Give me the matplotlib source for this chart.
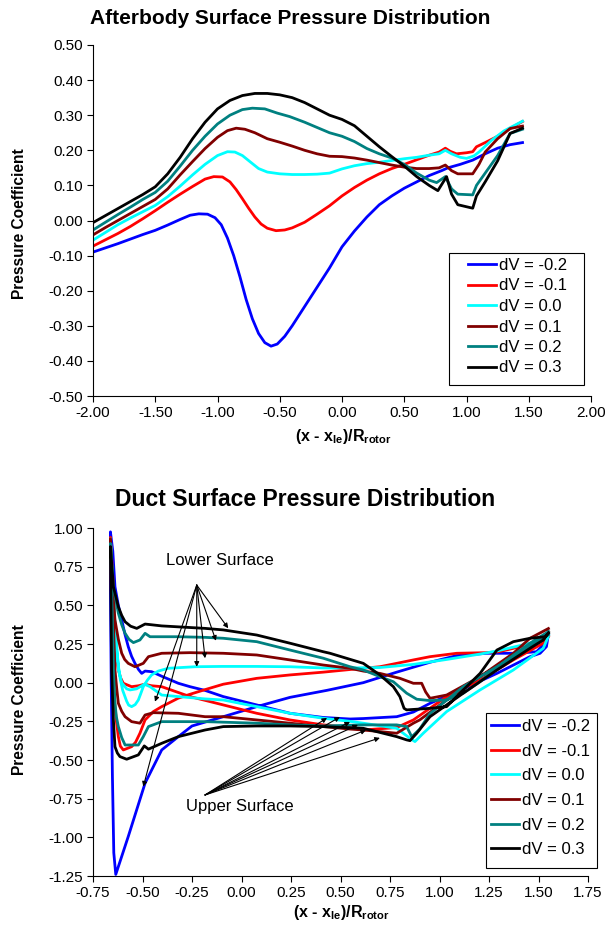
import matplotlib
matplotlib.use('Agg')
import matplotlib.pyplot as plt
from matplotlib.patches import Rectangle

plt.rcParams['font.family'] = ['Liberation Sans', 'DejaVu Sans']
plt.rcParams['mathtext.fontset'] = 'custom'
plt.rcParams['mathtext.rm'] = 'Liberation Sans'
plt.rcParams['mathtext.bf'] = 'Liberation Sans:bold'
plt.rcParams['mathtext.default'] = 'bf'

colors = ['#0000FF', '#FF0000', '#00FFFF', '#800000', '#008080', '#000000']
labels = ['dV = -0.2', 'dV = -0.1', 'dV = 0.0', 'dV = 0.1', 'dV = 0.2', 'dV = 0.3']

# ---- afterbody surface Cp, (x, Cp) pairs ----
after_m02 = [(-2.0, -0.09), (-1.9, -0.078), (-1.8, -0.066), (-1.7, -0.053), (-1.6, -0.04),
             (-1.5, -0.028), (-1.4, -0.013), (-1.3, 0.003), (-1.22, 0.015), (-1.15, 0.019),
             (-1.08, 0.018), (-1.02, 0.008), (-0.97, -0.012), (-0.92, -0.05), (-0.87, -0.1),
             (-0.82, -0.16), (-0.77, -0.225), (-0.72, -0.28), (-0.67, -0.322), (-0.62, -0.348),
             (-0.57, -0.358), (-0.52, -0.352), (-0.46, -0.33), (-0.4, -0.3), (-0.3, -0.245),
             (-0.2, -0.19), (-0.1, -0.135), (0.0, -0.075), (0.1, -0.03), (0.2, 0.01),
             (0.3, 0.045), (0.4, 0.07), (0.5, 0.092), (0.6, 0.11), (0.7, 0.128), (0.8, 0.142),
             (0.85, 0.15), (0.95, 0.16), (1.05, 0.172), (1.15, 0.19), (1.25, 0.206),
             (1.35, 0.216), (1.45, 0.222)]
after_m01 = [(-2.0, -0.073), (-1.9, -0.055), (-1.8, -0.037), (-1.7, -0.017), (-1.6, 0.005),
             (-1.5, 0.028), (-1.4, 0.052), (-1.3, 0.075), (-1.2, 0.097), (-1.1, 0.118),
             (-1.03, 0.125), (-0.96, 0.124), (-0.9, 0.11), (-0.85, 0.088), (-0.8, 0.062),
             (-0.75, 0.035), (-0.7, 0.01), (-0.65, -0.01), (-0.6, -0.022), (-0.53, -0.029),
             (-0.46, -0.027), (-0.4, -0.021), (-0.3, -0.005), (-0.2, 0.018), (-0.1, 0.042),
             (0.0, 0.07), (0.1, 0.094), (0.2, 0.115), (0.3, 0.133), (0.4, 0.148), (0.5, 0.16),
             (0.6, 0.173), (0.7, 0.186), (0.78, 0.195), (0.83, 0.206), (0.87, 0.197),
             (0.92, 0.19), (1.0, 0.193), (1.05, 0.196), (1.08, 0.21), (1.15, 0.222),
             (1.25, 0.24), (1.35, 0.262), (1.45, 0.282)]
after_000 = [(-2.0, -0.056), (-1.9, -0.034), (-1.8, -0.012), (-1.7, 0.007), (-1.6, 0.025),
             (-1.5, 0.043), (-1.4, 0.068), (-1.3, 0.098), (-1.2, 0.13), (-1.1, 0.16),
             (-1.0, 0.185), (-0.92, 0.196), (-0.86, 0.195), (-0.8, 0.185), (-0.73, 0.165),
             (-0.67, 0.148), (-0.6, 0.138), (-0.5, 0.133), (-0.4, 0.131), (-0.3, 0.131),
             (-0.2, 0.132), (-0.1, 0.135), (0.0, 0.147), (0.1, 0.156), (0.2, 0.162),
             (0.3, 0.166), (0.4, 0.171), (0.5, 0.176), (0.6, 0.18), (0.7, 0.186), (0.78, 0.19),
             (0.83, 0.2), (0.88, 0.19), (0.95, 0.18), (1.0, 0.177), (1.06, 0.184), (1.1, 0.195),
             (1.2, 0.228), (1.3, 0.255), (1.45, 0.283)]
after_p01 = [(-2.0, -0.041), (-1.9, -0.02), (-1.8, 0.0), (-1.7, 0.02), (-1.6, 0.04),
             (-1.5, 0.06), (-1.4, 0.09), (-1.3, 0.13), (-1.2, 0.168), (-1.1, 0.205),
             (-1.0, 0.237), (-0.92, 0.256), (-0.85, 0.263), (-0.78, 0.26), (-0.7, 0.25),
             (-0.6, 0.233), (-0.5, 0.223), (-0.4, 0.212), (-0.3, 0.2), (-0.2, 0.19),
             (-0.1, 0.183), (0.0, 0.182), (0.1, 0.178), (0.2, 0.172), (0.3, 0.165),
             (0.4, 0.158), (0.5, 0.152), (0.6, 0.148), (0.7, 0.148), (0.78, 0.15),
             (0.83, 0.158), (0.88, 0.142), (0.93, 0.133), (1.05, 0.133), (1.1, 0.16),
             (1.15, 0.195), (1.25, 0.233), (1.35, 0.262), (1.45, 0.269)]
after_p02 = [(-2.0, -0.027), (-1.9, -0.005), (-1.8, 0.017), (-1.7, 0.038), (-1.6, 0.06),
             (-1.5, 0.08), (-1.4, 0.112), (-1.3, 0.155), (-1.2, 0.2), (-1.1, 0.24),
             (-1.0, 0.275), (-0.9, 0.3), (-0.8, 0.316), (-0.72, 0.32), (-0.62, 0.318),
             (-0.52, 0.306), (-0.42, 0.296), (-0.3, 0.28), (-0.2, 0.265), (-0.1, 0.25),
             (0.0, 0.24), (0.1, 0.225), (0.2, 0.205), (0.3, 0.19), (0.4, 0.178), (0.5, 0.16),
             (0.6, 0.135), (0.7, 0.115), (0.76, 0.108), (0.83, 0.125), (0.88, 0.09),
             (0.93, 0.075), (1.05, 0.073), (1.08, 0.1), (1.15, 0.135), (1.25, 0.185),
             (1.35, 0.248), (1.45, 0.26)]
after_p03 = [(-2.0, -0.006), (-1.9, 0.014), (-1.8, 0.034), (-1.7, 0.054), (-1.6, 0.074),
             (-1.5, 0.096), (-1.4, 0.133), (-1.3, 0.18), (-1.2, 0.233), (-1.1, 0.28),
             (-1.0, 0.318), (-0.9, 0.342), (-0.8, 0.356), (-0.7, 0.362), (-0.6, 0.362),
             (-0.5, 0.358), (-0.4, 0.35), (-0.3, 0.336), (-0.2, 0.318), (-0.1, 0.3),
             (0.0, 0.288), (0.1, 0.27), (0.2, 0.24), (0.3, 0.21), (0.4, 0.182), (0.5, 0.155),
             (0.6, 0.125), (0.7, 0.1), (0.77, 0.085), (0.84, 0.125), (0.88, 0.075),
             (0.93, 0.045), (1.05, 0.035), (1.08, 0.07), (1.15, 0.11), (1.25, 0.17),
             (1.35, 0.248), (1.45, 0.263)]

# ---- duct surface Cp, lower surface TE -> LE then upper surface LE -> TE ----
duct_m02 = [(1.55, 0.31), (1.533, 0.255), (1.49, 0.20), (1.39, 0.19), (1.24, 0.19), (1.087, 0.175),
            (0.952, 0.132), (0.784, 0.068), (0.615, 0.0), (0.43, -0.05), (0.245, -0.095),
            (0.077, -0.155), (-0.092, -0.22), (-0.25, -0.28), (-0.319, -0.349), (-0.403, -0.435),
            (-0.487, -0.65), (-0.572, -0.995), (-0.635, -1.24), (-0.645, -1.1), (-0.652, -0.6),
            (-0.658, 0.0), (-0.662, 0.6), (-0.662, 0.975),
            (-0.65, 0.85), (-0.639, 0.62), (-0.622, 0.5), (-0.605, 0.405), (-0.588, 0.31),
            (-0.572, 0.233), (-0.555, 0.17), (-0.538, 0.125), (-0.52, 0.085), (-0.504, 0.06),
            (-0.487, 0.075), (-0.454, 0.071), (-0.40, 0.04), (-0.319, -0.004),
            (-0.26, -0.026), (-0.184, -0.05), (-0.092, -0.09), (0.077, -0.144), (0.245, -0.198),
            (0.413, -0.225), (0.548, -0.235), (0.615, -0.232), (0.784, -0.22), (0.868, -0.19),
            (0.95, -0.135), (1.12, -0.04), (1.29, 0.06), (1.457, 0.168), (1.508, 0.19),
            (1.54, 0.233), (1.55, 0.31)]
duct_m01 = [(1.55, 0.30), (1.50, 0.27), (1.40, 0.23), (1.30, 0.20), (1.238, 0.194), (1.087, 0.19),
            (0.952, 0.168), (0.868, 0.147), (0.784, 0.125), (0.699, 0.103), (0.615, 0.093),
            (0.548, 0.085), (0.413, 0.068), (0.245, 0.05), (0.077, 0.028), (-0.092, -0.01),
            (-0.184, -0.045), (-0.26, -0.075), (-0.319, -0.10), (-0.403, -0.155), (-0.445, -0.187),
            (-0.487, -0.241), (-0.513, -0.327), (-0.535, -0.385), (-0.555, -0.414),
            (-0.597, -0.435), (-0.612, -0.41), (-0.622, -0.349), (-0.632, -0.25),
            (-0.64, -0.133), (-0.652, 0.19), (-0.658, 0.62), (-0.662, 0.94),
            (-0.647, 0.62), (-0.639, 0.3), (-0.63, 0.16), (-0.622, 0.082), (-0.61, 0.03),
            (-0.597, -0.004), (-0.555, -0.026),
            (-0.52, -0.02), (-0.49, -0.01), (-0.454, -0.02), (-0.403, -0.026), (-0.26, -0.09),
            (-0.092, -0.144), (0.077, -0.198), (0.245, -0.241), (0.413, -0.273), (0.548, -0.29),
            (0.615, -0.306), (0.784, -0.29), (0.868, -0.241), (1.036, -0.09), (1.205, 0.017),
            (1.373, 0.147), (1.524, 0.255), (1.55, 0.30)]
duct_000 = [(1.55, 0.31), (1.54, 0.30), (1.457, 0.255), (1.29, 0.205), (1.205, 0.185), (1.036, 0.15),
            (0.868, 0.118), (0.699, 0.098), (0.548, 0.095), (0.413, 0.095), (0.245, 0.103),
            (0.077, 0.105), (-0.10, 0.105), (-0.235, 0.103), (-0.37, 0.093), (-0.42, 0.075),
            (-0.454, 0.05), (-0.476, 0.015), (-0.496, -0.026), (-0.51, -0.075),
            (-0.521, -0.112), (-0.537, -0.142), (-0.555, -0.155), (-0.57, -0.145),
            (-0.58, -0.12), (-0.60, -0.05), (-0.612, 0.02),
            (-0.622, 0.1), (-0.64, 0.4), (-0.655, 0.75), (-0.662, 0.93),
            (-0.65, 0.6), (-0.63, 0.2), (-0.618, 0.07), (-0.605, 0.0), (-0.58, -0.04),
            (-0.563, -0.047),
            (-0.53, -0.04), (-0.49, -0.01), (-0.462, -0.026), (-0.403, -0.08), (-0.319, -0.09),
            (-0.184, -0.105), (-0.092, -0.112), (0.077, -0.155), (0.245, -0.198), (0.413, -0.23),
            (0.548, -0.25), (0.615, -0.262), (0.784, -0.295), (0.851, -0.36), (0.876, -0.381),
            (0.918, -0.327), (1.036, -0.187), (1.205, -0.047), (1.373, 0.082), (1.524, 0.222),
            (1.55, 0.30)]
duct_p01 = [(1.55, 0.35), (1.457, 0.287), (1.373, 0.19), (1.205, 0.039), (1.036, -0.08),
            (0.952, -0.101), (0.93, -0.06), (0.91, -0.004), (0.868, -0.004), (0.8, 0.028),
            (0.699, 0.06), (0.615, 0.075), (0.548, 0.093), (0.413, 0.114), (0.245, 0.147),
            (0.077, 0.179), (-0.092, 0.19), (-0.26, 0.194), (-0.403, 0.19), (-0.47, 0.168),
            (-0.496, 0.125), (-0.538, 0.103), (-0.572, 0.125), (-0.59, 0.15), (-0.605, 0.19),
            (-0.622, 0.28), (-0.639, 0.405), (-0.655, 0.7), (-0.662, 0.93),
            (-0.65, 0.5), (-0.639, 0.082), (-0.63, -0.04), (-0.622, -0.133), (-0.605, -0.185),
            (-0.588, -0.22), (-0.555, -0.252),
            (-0.513, -0.262), (-0.487, -0.209), (-0.445, -0.194), (-0.319, -0.198), (-0.184, -0.22),
            (-0.092, -0.22), (0.077, -0.241), (0.245, -0.262), (0.413, -0.284), (0.548, -0.3),
            (0.615, -0.306), (0.784, -0.327), (0.868, -0.262), (0.9, -0.241), (1.036, -0.112),
            (1.205, 0.039), (1.373, 0.168), (1.524, 0.276), (1.55, 0.33)]
duct_p02 = [(1.55, 0.33), (1.457, 0.255), (1.34, 0.147), (1.205, 0.006), (1.12, -0.068),
            (1.036, -0.112), (0.952, -0.116), (0.885, -0.107), (0.834, -0.068), (0.767, 0.006),
            (0.699, 0.039), (0.615, 0.082), (0.548, 0.103), (0.413, 0.158), (0.245, 0.211),
            (0.077, 0.265), (-0.092, 0.287), (-0.184, 0.293), (-0.319, 0.297), (-0.462, 0.297),
            (-0.487, 0.319), (-0.513, 0.276), (-0.546, 0.259), (-0.568, 0.28), (-0.588, 0.319),
            (-0.605, 0.375), (-0.622, 0.449), (-0.647, 0.62), (-0.662, 0.9),
            (-0.652, 0.4), (-0.647, 0.082), (-0.639, -0.133), (-0.632, -0.22), (-0.622, -0.284),
            (-0.605, -0.355), (-0.588, -0.403),
            (-0.521, -0.403), (-0.496, -0.349), (-0.47, -0.284), (-0.403, -0.252), (-0.184, -0.252),
            (0.077, -0.262), (0.245, -0.273), (0.413, -0.28), (0.615, -0.273), (0.784, -0.273),
            (0.834, -0.284), (0.86, -0.35), (0.9, -0.30), (0.952, -0.2), (1.12, -0.026),
            (1.29, 0.103), (1.457, 0.233), (1.55, 0.31)]
duct_p03 = [(1.55, 0.32), (1.533, 0.297), (1.457, 0.287), (1.373, 0.265), (1.29, 0.211),
            (1.205, 0.06), (1.12, -0.047), (1.036, -0.155), (0.952, -0.166), (0.834, -0.176),
            (0.821, -0.166), (0.8, -0.09), (0.767, -0.026), (0.699, 0.05), (0.615, 0.125),
            (0.447, 0.19), (0.413, 0.2), (0.245, 0.255), (0.077, 0.308), (-0.092, 0.341),
            (-0.184, 0.351), (-0.403, 0.367), (-0.487, 0.379), (-0.529, 0.351), (-0.56, 0.365),
            (-0.588, 0.394), (-0.605, 0.435), (-0.622, 0.491), (-0.647, 0.62), (-0.662, 0.88),
            (-0.656, 0.082), (-0.647, -0.241), (-0.639, -0.414), (-0.627, -0.455),
            (-0.614, -0.478), (-0.58, -0.495),
            (-0.521, -0.467), (-0.491, -0.409), (-0.47, -0.43), (-0.403, -0.392), (-0.319, -0.349),
            (-0.184, -0.306), (-0.092, -0.284), (0.077, -0.28), (0.245, -0.28), (0.413, -0.284),
            (0.615, -0.295), (0.784, -0.349), (0.834, -0.37), (0.851, -0.375), (0.885, -0.327),
            (0.952, -0.22), (1.12, -0.068), (1.29, 0.082), (1.457, 0.222), (1.524, 0.276),
            (1.55, 0.32)]

after_xticks = [-2.0, -1.5, -1.0, -0.5, 0.0, 0.5, 1.0, 1.5, 2.0]
after_xlabels = ['-2.00', '-1.50', '-1.00', '-0.50', '0.00', '0.50', '1.00', '1.50', '2.00']
after_yticks = [-0.5, -0.4, -0.3, -0.2, -0.1, 0.0, 0.1, 0.2, 0.3, 0.4, 0.5]
after_ylabels = ['-0.50', '-0.40', '-0.30', '-0.20', '-0.10', '0.00', '0.10', '0.20', '0.30',
                 '0.40', '0.50']
duct_xticks = [-0.75, -0.5, -0.25, 0.0, 0.25, 0.5, 0.75, 1.0, 1.25, 1.5, 1.75]
duct_xlabels = ['-0.75', '-0.50', '-0.25', '0.00', '0.25', '0.50', '0.75', '1.00', '1.25',
                '1.50', '1.75']
duct_yticks = [-1.25, -1.0, -0.75, -0.5, -0.25, 0.0, 0.25, 0.5, 0.75, 1.0]
duct_ylabels = ['-1.25', '-1.00', '-0.75', '-0.50', '-0.25', '0.00', '0.25', '0.50', '0.75',
                '1.00']

# arrow tips for the surface callouts
lower_tips = [(-0.067, 0.352), (-0.129, 0.271), (-0.184, 0.158), (-0.226, 0.103),
              (-0.437, -0.123), (-0.496, -0.672)]
upper_tips = [(0.432, -0.228), (0.497, -0.222), (0.548, -0.254), (0.588, -0.273),
              (0.629, -0.306), (0.699, -0.357)]

W, H = 605, 933
fig = plt.figure(figsize=(W / 100, H / 100), dpi=100)


def style_axes(ax, xt, xl, yt, yl):
    for s in ['top', 'right']:
        ax.spines[s].set_visible(False)
    for s in ['left', 'bottom']:
        ax.spines[s].set_linewidth(0.8)
    ax.set_xticks(xt)
    ax.set_xticklabels(xl)
    ax.set_yticks(yt)
    ax.set_yticklabels(yl)
    ax.tick_params(direction='out', length=4, width=0.8, labelsize=11, pad=3)
    ax.set_xlim(xt[0], xt[-1])
    ax.set_ylim(yt[0], yt[-1])


def boxed_legend(ax, left, top, box, spacing):
    # legend content without its own frame; the box is drawn separately
    leg = ax.legend(loc='upper left', bbox_to_anchor=(left / W, 1 - top / H),
                    bbox_transform=fig.transFigure, fontsize=12, frameon=False,
                    handlelength=1.68, handletextpad=0.18, labelspacing=spacing,
                    borderpad=0, borderaxespad=0)
    x0, y0, x1, y1 = box
    fig.patches.append(Rectangle((x0 / W, 1 - y1 / H), (x1 - x0) / W, (y1 - y0) / H,
                                 transform=fig.transFigure, fill=False, edgecolor='black',
                                 linewidth=0.8))
    return leg


# afterbody
ax1 = fig.add_axes([93 / W, 1 - 396 / H, 498 / W, 351 / H])
for data, c, lab in zip([after_m02, after_m01, after_000, after_p01, after_p02, after_p03],
                        colors, labels):
    ax1.plot([p[0] for p in data], [p[1] for p in data], color=c, lw=2.0, label=lab)
style_axes(ax1, after_xticks, after_xlabels, after_yticks, after_ylabels)
boxed_legend(ax1, 468, 258, (449, 253, 584, 385), 0.33)

# duct
ax2 = fig.add_axes([93 / W, 1 - 876 / H, 495 / W, 348 / H])
for data, c, lab in zip([duct_m02, duct_m01, duct_000, duct_p01, duct_p02, duct_p03],
                        colors, labels):
    ax2.plot([p[0] for p in data], [p[1] for p in data], color=c, lw=2.0, label=lab)
style_axes(ax2, duct_xticks, duct_xlabels, duct_yticks, duct_ylabels)
boxed_legend(ax2, 491, 719, (486, 713, 597, 868), 0.58)

arrow_kw = dict(arrowstyle='-|>', color='black', lw=0.8, mutation_scale=7, shrinkA=0, shrinkB=0)
ax2.text(-0.109, 0.793, 'Lower Surface', fontsize=12, ha='center', va='center')
for tip in lower_tips:
    ax2.annotate('', xy=tip, xytext=(-0.226, 0.631), arrowprops=arrow_kw)
ax2.text(-0.008, -0.80, 'Upper Surface', fontsize=12, ha='center', va='center')
for tip in upper_tips:
    ax2.annotate('', xy=tip, xytext=(-0.184, -0.726), arrowprops=arrow_kw)

# titles and axis captions
fig.text(290 / W, 1 - 19 / H, 'Afterbody Surface Pressure Distribution', fontsize=15,
         fontweight='bold', ha='center', va='center')
fig.text(305 / W, 1 - 500 / H, 'Duct Surface Pressure Distribution', fontsize=16.5,
         fontweight='bold', ha='center', va='center')
for yc in [224, 700]:
    fig.text(20 / W, 1 - yc / H, 'Pressure Coefficient', fontsize=11.2, fontweight='bold',
             rotation=90, ha='center', va='center')
xcap = r'(x - x$_{le}$)/R$_{rotor}$'
fig.text(343 / W, 1 - 437 / H, xcap, fontsize=11.5, fontweight='bold', ha='center', va='center')
fig.text(341 / W, 1 - 913 / H, xcap, fontsize=11.5, fontweight='bold', ha='center', va='center')

fig.savefig('out.png', dpi=100)
